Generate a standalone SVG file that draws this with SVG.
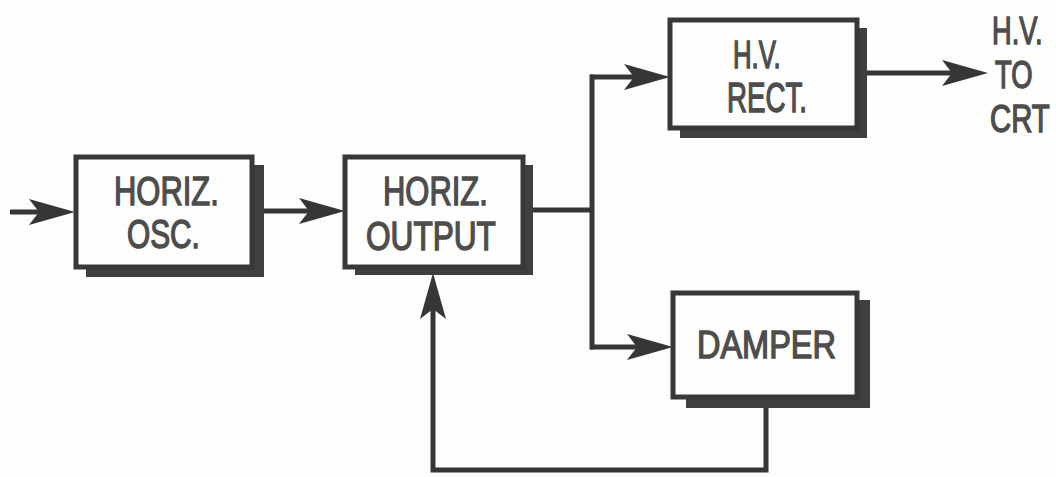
<svg xmlns="http://www.w3.org/2000/svg" width="1056" height="477" viewBox="0 0 1056 477">
  <style>
    .bg { fill: #fdfdfc; }
    .shadow { fill: #3f3f3f; }
    .box { fill: #fdfdfc; stroke: #383838; stroke-width: 5; }
    .wire { fill: none; stroke: #363636; stroke-width: 5; stroke-linejoin: miter; }
    .lbl { font-family: "Liberation Sans", Arial, sans-serif; font-size: 40px; fill: #4d4d4d; stroke: #4d4d4d; stroke-width: 1.4; text-anchor: start; }
  </style>
  <defs>
    <marker id="arrow" markerUnits="userSpaceOnUse" viewBox="-28 -14 50 28" markerWidth="50" markerHeight="28" refX="0" refY="0" orient="auto">
      <path d="M20,0 L-26,-13 L-16,0 L-26,13 Z" fill="#363636"/>
    </marker>
  </defs>
  <rect class="bg" x="0" y="0" width="1056" height="477"/>

  <g id="connectors">
    <path class="wire" d="M10,212 L55,212" marker-end="url(#arrow)"/>
    <path class="wire" d="M252,211 L325,211" marker-end="url(#arrow)"/>
    <path class="wire" d="M523,210 L592,210"/>
    <path class="wire" d="M592,74.5 L592,349.5"/>
    <path class="wire" d="M590,77 L650,77" marker-end="url(#arrow)"/>
    <path class="wire" d="M590,347 L653,347" marker-end="url(#arrow)"/>
    <path class="wire" d="M857,73 L968,73" marker-end="url(#arrow)"/>
    <path class="wire" d="M766,400 L766,470 L433,470 L433,293" marker-end="url(#arrow)"/>
  </g>

  <g id="horiz-osc">
    <rect class="shadow" x="86" y="165" width="178" height="112"/>
    <rect class="box" x="76" y="157" width="176" height="110"/>
    <text class="lbl" transform="translate(114,205) scale(0.774,1)">HORIZ.</text>
    <text class="lbl" transform="translate(127,248) scale(0.746,1)">OSC.</text>
  </g>

  <g id="horiz-output">
    <rect class="shadow" x="355" y="165" width="178" height="110"/>
    <rect class="box" x="345" y="157" width="178" height="110"/>
    <text class="lbl" transform="translate(383,205) scale(0.774,1)">HORIZ.</text>
    <text class="lbl" transform="translate(366,250) scale(0.79,1)">OUTPUT</text>
  </g>

  <g id="hv-rect">
    <rect class="shadow" x="680" y="28" width="187" height="110"/>
    <rect class="box" x="670" y="20" width="187" height="108"/>
    <text class="lbl" style="font-size:38px" transform="translate(733,68) scale(0.677,1)">H.V.</text>
    <text class="lbl" style="font-size:42px" transform="translate(727,112) scale(0.66,1)">RECT.</text>
  </g>

  <g id="damper">
    <rect class="shadow" x="686" y="300" width="184" height="108"/>
    <rect class="box" x="673" y="293" width="184" height="104"/>
    <text class="lbl" style="font-size:39px" transform="translate(697,358) scale(0.833,1)">DAMPER</text>
  </g>

  <g id="hv-to-crt">
    <text class="lbl" style="font-size:38px" transform="translate(992,44) scale(0.717,1)">H.V.</text>
    <text class="lbl" style="font-size:38px" transform="translate(995,88) scale(0.72,1)">TO</text>
    <text class="lbl" style="font-size:38px" transform="translate(990,132) scale(0.77,1)">CRT</text>
  </g>
</svg>
